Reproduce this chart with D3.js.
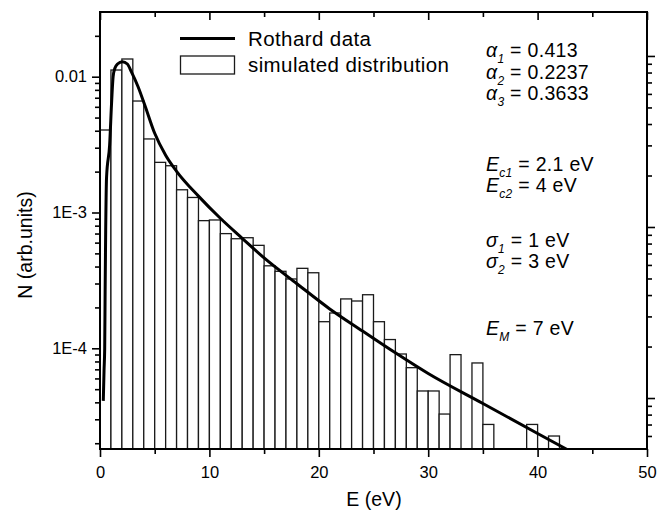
<!DOCTYPE html>
<html>
<head>
<meta charset="utf-8">
<script src="https://cdn.jsdelivr.net/npm/d3@7"></script>
<style>
  body { margin: 0; background: #fff; }
  svg { font-family: "Liberation Sans", Arial, sans-serif; }
  .axis path.domain { display: none; }
  .axis line { stroke: #000; stroke-width: 1.6; }
  .axis text { font-size: 16.5px; fill: #000; font-family: "Liberation Sans", Arial, sans-serif; }
</style>
</head>
<body>
<svg width="663" height="514"></svg>
<script>
'use strict';
// histogram: 1 eV bins starting at 0 eV (0 = empty bin)
const bin_width = 1;
const bin_counts = [
  0.00405, 0.0112, 0.0135, 0.00662, 0.00348, 0.00234, 0.00221, 0.00147, 0.00129, 0.000871,
  0.000881, 0.000699, 0.000641, 0.000652, 0.000573, 0.000405, 0.000369, 0.000324, 0.000388, 0.000360,
  0.000157, 0.000182, 0.000231, 0.000223, 0.000248, 0.000157, 0.000116, 0.0000908, 0.0000720, 0.0000485,
  0.0000485, 0.0000328, 0.0000898, 0, 0.0000780, 0.0000275, 0, 0, 0, 0.0000275,
  0, 0.0000226
];

// Rothard data curve
const rothard_e = [0.30, 0.37, 0.43, 0.47, 0.52, 0.60, 0.88, 1.07, 1.20, 1.37, 1.60, 2.05, 2.50, 2.86, 3.48,
  4.09, 5, 6, 7, 9, 11, 13, 15, 18, 21, 24, 27, 30, 35, 40, 42.8];
const rothard_n = [4.1e-5, 6.9e-5, 1.0e-4, 2.7e-4, 7.4e-4, 1.82e-3, 3.14e-3, 6.7e-3, 0.0100, 0.0116, 0.0124,
  0.0129, 0.0124, 0.0109, 0.00844, 0.00619, 0.00383, 0.00264, 0.00201, 0.00132, 0.000907, 0.000646, 0.000463,
  0.000299, 0.000195, 0.000134, 0.0000926, 0.0000652, 0.0000392, 0.0000236, 0.0000178];

const x_ticks = [0, 10, 20, 30, 40, 50];
const x_minor_ticks = [5, 15, 25, 35, 45];
const y_tick_values = [1e-2, 1e-3, 1e-4];
const y_tick_labels = ['0.01', '1E-3', '1E-4'];
const legend_labels = ['Rothard data', 'simulated distribution'];

const param_sym = ['\u03b1', '\u03b1', '\u03b1', 'E', 'E', '\u03c3', '\u03c3', 'E'];
const param_sub = ['1', '2', '3', 'c1', 'c2', '1', '2', 'M'];
const param_val = [' = 0.413', ' = 0.2237', ' = 0.3633', ' = 2.1 eV', ' = 4 eV', ' = 1 eV', ' = 3 eV', ' = 7 eV'];

const svg = d3.select('svg');
const margin = {top: 12, right: 16, bottom: 65, left: 100};
const chart_width = +svg.attr('width') - margin.left - margin.right;
const chart_height = +svg.attr('height') - margin.top - margin.bottom;
const chart_g = svg.append('g').attr('transform', `translate(${margin.left},${margin.top})`);

//scales
const x_scale = d3.scaleLinear().domain([0, 50]).range([0, chart_width]);
const y_scale = d3.scaleLog().domain([Math.pow(10, -4.7415), Math.pow(10, -1.5236)]).range([chart_height, 0]);
// right axis of the original uses its own log spacing
const y2_scale = d3.scaleLog().domain([Math.pow(10, -2.298), Math.pow(10, 0.257)]).range([chart_height, 0]);

svg.append('defs').append('clipPath').attr('id', 'plot_clip')
  .append('rect').attr('width', chart_width).attr('height', chart_height);

const plot_g = chart_g.append('g').attr('clip-path', 'url(#plot_clip)');

//draw bars
const bins = bin_counts.map((v, i) => ({x0: i * bin_width, x1: (i + 1) * bin_width, v: v}))
  .filter(d => d.v > 0);
plot_g.append('g')
  .selectAll('rect').data(bins).enter()
  .append('rect')
    .attr('x', d => x_scale(d.x0))
    .attr('y', d => y_scale(d.v))
    .attr('width', d => x_scale(d.x1) - x_scale(d.x0))
    .attr('height', d => chart_height - y_scale(d.v))
    .attr('fill', '#fff')
    .attr('stroke', '#1a1a1a')
    .attr('stroke-width', 1.3);

//draw curve
const line = d3.line()
  .x(d => x_scale(d[0]))
  .y(d => y_scale(d[1]))
  .curve(d3.curveMonotoneX);
plot_g.append('path')
  .datum(rothard_e.map((e, i) => [e, rothard_n[i]]))
  .attr('d', line)
  .attr('fill', 'none')
  .attr('stroke', '#000')
  .attr('stroke-width', 3)
  .attr('stroke-linejoin', 'round');

//log ticks
const log_ticks = (scale) => scale.ticks().filter(t => {
  const d = scale.domain();
  return t >= d[0] && t <= d[1];
});
const is_major = t => Math.abs(Math.log10(t) - Math.round(Math.log10(t))) < 1e-6;

//left axis
chart_g.append('g').attr('class', 'axis')
  .call(d3.axisLeft(y_scale).tickValues(log_ticks(y_scale).filter(t => !is_major(t)))
    .tickSize(5).tickFormat(''));
chart_g.append('g').attr('class', 'axis')
  .call(d3.axisLeft(y_scale).tickValues(y_tick_values).tickSize(8).tickPadding(5)
    .tickFormat((d, i) => y_tick_labels[i]));

//right axis (ticks only)
chart_g.append('g').attr('class', 'axis')
  .attr('transform', `translate(${chart_width},0)`)
  .call(d3.axisRight(y2_scale).tickValues(log_ticks(y2_scale).filter(t => !is_major(t)))
    .tickSize(5).tickFormat(''));
chart_g.append('g').attr('class', 'axis')
  .attr('transform', `translate(${chart_width},0)`)
  .call(d3.axisRight(y2_scale).tickValues(log_ticks(y2_scale).filter(is_major))
    .tickSize(8).tickFormat(''));

//bottom axis
chart_g.append('g').attr('class', 'axis')
  .attr('transform', `translate(0,${chart_height})`)
  .call(d3.axisBottom(x_scale).tickValues(x_minor_ticks).tickSize(5).tickFormat(''));
chart_g.append('g').attr('class', 'axis')
  .attr('transform', `translate(0,${chart_height})`)
  .call(d3.axisBottom(x_scale).tickValues(x_ticks).tickSize(8).tickPadding(9).tickFormat(d3.format('d')));

//top axis (inward ticks)
chart_g.append('g').attr('class', 'axis')
  .call(d3.axisTop(x_scale).tickValues(x_minor_ticks).tickSize(-5).tickFormat(''));
chart_g.append('g').attr('class', 'axis')
  .call(d3.axisTop(x_scale).tickValues(x_ticks).tickSize(-8).tickFormat(''));

//frame
chart_g.append('rect')
  .attr('width', chart_width)
  .attr('height', chart_height)
  .attr('fill', 'none')
  .attr('stroke', '#000')
  .attr('stroke-width', 2);

//axis titles
svg.append('text')
  .attr('transform', `translate(32,245) rotate(-90)`)
  .attr('text-anchor', 'middle')
  .attr('font-size', 19.5)
  .text('N (arb.units)');
svg.append('text')
  .attr('x', 374)
  .attr('y', 506)
  .attr('text-anchor', 'middle')
  .attr('font-size', 19.5)
  .text('E (eV)');

//legend
const legend = chart_g.append('g')
  .attr('font-size', 20.5)
  .attr('letter-spacing', 0.4)
  .attr('transform', 'translate(80,0)');
legend.append('line')
  .attr('x1', 0).attr('x2', 55)
  .attr('y1', 26.5).attr('y2', 26.5)
  .attr('stroke', '#000').attr('stroke-width', 3);
legend.append('rect')
  .attr('x', 0.5).attr('y', 44)
  .attr('width', 54).attr('height', 18)
  .attr('fill', '#fff').attr('stroke', '#1a1a1a').attr('stroke-width', 1.3);
legend.selectAll('text.lg').data(legend_labels).enter()
  .append('text')
    .attr('class', 'lg')
    .attr('x', 68)
    .attr('y', (d, i) => 33.5 + i * 26)
    .text(d => d);

//fit parameters
const param_y = [56.5, 78.5, 100, 170.5, 192, 246.5, 268, 335];
const params = svg.append('g').attr('font-size', 19.5).attr('letter-spacing', 0.3);
param_sym.forEach((s, i) => {
  const t = params.append('text').attr('x', 486).attr('y', param_y[i]);
  t.append('tspan').attr('font-style', 'italic').text(s);
  t.append('tspan').attr('font-style', 'italic').attr('font-size', 12)
    .attr('dy', 6).text(param_sub[i]);
  t.append('tspan').attr('dy', -6).text(param_val[i]);
});
</script>
</body>
</html>
